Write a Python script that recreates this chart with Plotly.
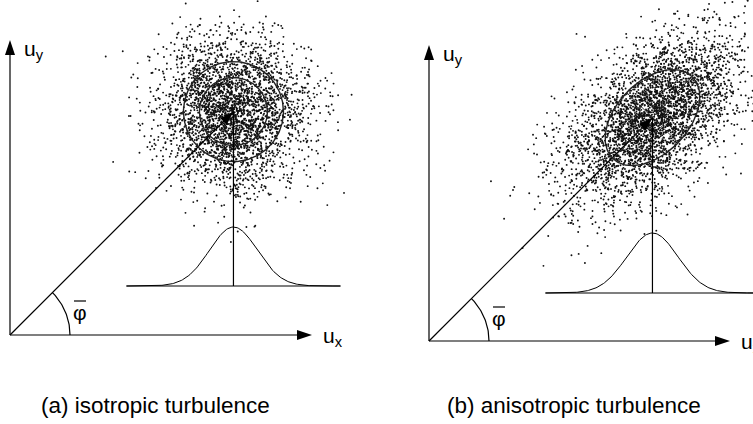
import numpy as np
import plotly.graph_objects as go

# ---- diagram values (pixel-scaled diagram units, origin of each panel at 0,0) ----
panels = ["a", "b"]
captions = ["(a) isotropic turbulence", "(b) anisotropic turbulence"]
mean_speed = [316, 316]            # |u| of mean velocity vector
mean_angle_deg = [45, 45]          # mean flow angle phi-bar
cloud_sigma_major = [37, 53]       # spread of velocity samples along principal axis
cloud_sigma_minor = [37, 29]       # spread across principal axis
cloud_axis_deg = [0, 43]           # orientation of principal axis
cloud_count = [3200, 3800]
ellipse_major = [[50, 34], [57]]   # contour radii / semi-axes
ellipse_minor = [[50, 34], [36]]
ellipse_angle_deg = [0, 46]
pdf_sigma = [24, 25.5]             # width of the projected pdf curve
pdf_height = [59, 60]
pdf_base = [49, 48]
ux_len = [302, 301]
uy_len = [295, 296]
arc_radius = [60, 60]

# panel placement on the canvas
origins = [(10, 89), (429, 83)]
W, H = 753, 424
LINE = dict(color="black", width=1.2)
FONT = "Liberation Sans, Arial, Helvetica, sans-serif"

fig = go.Figure()
shapes = []
annotations = []
rng = np.random.default_rng(7)


def tri(tip, direction, length, half):
    d = np.array(direction, float)
    d /= np.linalg.norm(d)
    n = np.array([-d[1], d[0]])
    t = np.array(tip, float)
    base = t - d * length
    p1 = base + n * half
    p2 = base - n * half
    return f"M{t[0]},{t[1]} L{p1[0]},{p1[1]} L{p2[0]},{p2[1]} Z"


for i, p in enumerate(panels):
    ox, oy = origins[i]
    ang = np.radians(mean_angle_deg[i])
    cx = ox + mean_speed[i] * np.cos(ang)
    cy = oy + mean_speed[i] * np.sin(ang)

    # velocity sample cloud
    n = cloud_count[i]
    a = rng.normal(0, cloud_sigma_major[i], n)
    b = rng.normal(0, cloud_sigma_minor[i], n)
    th = np.radians(cloud_axis_deg[i])
    px = cx + a * np.cos(th) - b * np.sin(th)
    py = cy + a * np.sin(th) + b * np.cos(th)
    fig.add_trace(go.Scatter(x=px, y=py, mode="markers",
                             marker=dict(size=1.9, color="#111", line=dict(width=0)),
                             hoverinfo="skip", showlegend=False))

    # coordinate axes
    fig.add_trace(go.Scatter(x=[ox, ox + ux_len[i] - 10], y=[oy, oy], mode="lines",
                             line=LINE, showlegend=False, hoverinfo="skip"))
    fig.add_trace(go.Scatter(x=[ox, ox], y=[oy, oy + uy_len[i] - 10], mode="lines",
                             line=LINE, showlegend=False, hoverinfo="skip"))
    shapes.append(dict(type="path", path=tri((ox + ux_len[i], oy), (1, 0), 15, 5),
                       fillcolor="black", line=dict(width=0)))
    shapes.append(dict(type="path", path=tri((ox, oy + uy_len[i]), (0, 1), 15, 5),
                       fillcolor="black", line=dict(width=0)))

    # mean velocity vector
    fig.add_trace(go.Scatter(x=[ox, cx - 8 * np.cos(ang)], y=[oy, cy - 8 * np.sin(ang)],
                             mode="lines", line=LINE, showlegend=False, hoverinfo="skip"))
    shapes.append(dict(type="path", path=tri((cx, cy), (np.cos(ang), np.sin(ang)), 14, 4.5),
                       fillcolor="black", line=dict(width=0)))

    # angle arc
    t = np.linspace(0, ang, 40)
    fig.add_trace(go.Scatter(x=ox + arc_radius[i] * np.cos(t), y=oy + arc_radius[i] * np.sin(t),
                             mode="lines", line=LINE, showlegend=False, hoverinfo="skip"))

    # contour ellipses
    et = np.radians(ellipse_angle_deg[i])
    s = np.linspace(0, 2 * np.pi, 181)
    for ra, rb in zip(ellipse_major[i], ellipse_minor[i]):
        ex = cx + ra * np.cos(s) * np.cos(et) - rb * np.sin(s) * np.sin(et)
        ey = cy + ra * np.cos(s) * np.sin(et) + rb * np.sin(s) * np.cos(et)
        fig.add_trace(go.Scatter(x=ex, y=ey, mode="lines", line=dict(color="#222", width=1.4),
                                 showlegend=False, hoverinfo="skip"))
    if ellipse_major[i][0] != ellipse_minor[i][0]:
        ra, rb = ellipse_major[i][0], ellipse_minor[i][0]
        for r, phi in ((ra, et), (rb, et + np.pi / 2)):
            fig.add_trace(go.Scatter(x=[cx - r * np.cos(phi), cx + r * np.cos(phi)],
                                     y=[cy - r * np.sin(phi), cy + r * np.sin(phi)],
                                     mode="lines", line=dict(color="#333", width=1),
                                     showlegend=False, hoverinfo="skip"))

    # projected pdf
    base = oy + pdf_base[i]
    gx = np.linspace(-107, 107, 200)
    gy = base + pdf_height[i] * np.exp(-0.5 * (gx / pdf_sigma[i]) ** 2)
    fig.add_trace(go.Scatter(x=cx + gx, y=gy, mode="lines", line=dict(color="black", width=1),
                             showlegend=False, hoverinfo="skip"))
    fig.add_trace(go.Scatter(x=[cx - 107, cx + 107], y=[base, base], mode="lines",
                             line=LINE, showlegend=False, hoverinfo="skip"))
    fig.add_trace(go.Scatter(x=[cx, cx], y=[base, cy], mode="lines",
                             line=LINE, showlegend=False, hoverinfo="skip"))

    # labels
    annotations.append(dict(x=ox + 12, y=oy + uy_len[i] - 10, text="u<sub>y</sub>",
                            xanchor="left", yanchor="middle", showarrow=False,
                            font=dict(size=21, family=FONT, color="black")))
    annotations.append(dict(x=ox + ux_len[i] + 9, y=oy - 2, text="u<sub>x</sub>",
                            xanchor="left", yanchor="middle", showarrow=False,
                            font=dict(size=21, family=FONT, color="black")))
    annotations.append(dict(x=ox + 70, y=oy + 23, text="\u03c6",
                            xanchor="center", yanchor="middle", showarrow=False,
                            font=dict(size=21, family=FONT, color="black")))
    shapes.append(dict(type="line", x0=ox + 64, x1=ox + 76, y0=oy + 34, y1=oy + 34,
                       line=dict(color="black", width=1.2)))
    annotations.append(dict(x=ox + 145, y=19, text=captions[i],
                            xanchor="center", yanchor="middle", showarrow=False,
                            font=dict(size=22.5, family=FONT, color="black")))

fig.update_layout(
    width=W, height=H,
    margin=dict(l=0, r=0, t=0, b=0),
    paper_bgcolor="white", plot_bgcolor="white",
    xaxis=dict(range=[0, W], visible=False, fixedrange=True),
    yaxis=dict(range=[0, H], visible=False, fixedrange=True),
    shapes=shapes, annotations=annotations,
    showlegend=False,
)
fig.write_html("out.html", config=dict(displayModeBar=False))
